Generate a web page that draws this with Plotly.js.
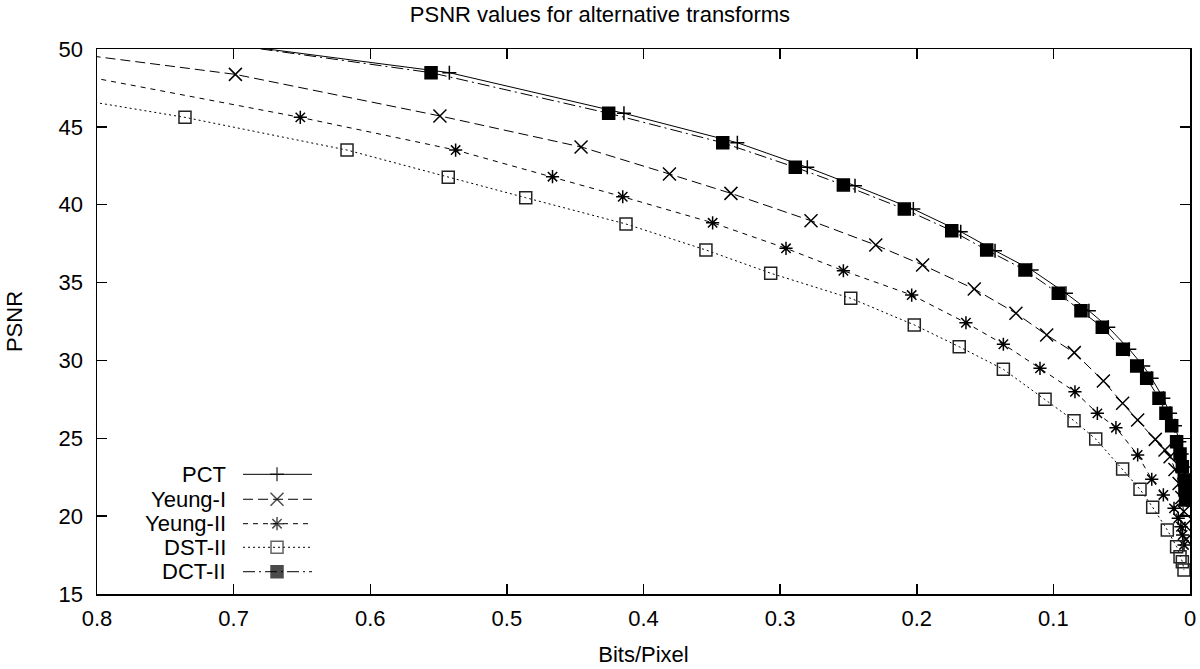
<!DOCTYPE html>
<html>
<head>
<meta charset="utf-8">
<script src="https://cdn.plot.ly/plotly-3.0.1.min.js"></script>
<style>html,body{margin:0;padding:0;background:#fff;}#chart{width:1200px;height:669px;}</style>
</head>
<body>
<div id="chart"></div>
<script>
// ---- data (bits/pixel, PSNR) ----
const seriesNames = ["PCT", "Yeung-I", "Yeung-II", "DST-II", "DCT-II"];

const pctX = [0.75, 0.5421, 0.4143, 0.3313, 0.2801, 0.2452, 0.2025, 0.1678, 0.1427, 0.1159, 0.0908, 0.0740, 0.0598, 0.0444, 0.0342, 0.0281, 0.0195, 0.0146, 0.0110, 0.0078, 0.0061, 0.0046, 0.0033, 0.0026, 0.0022];
const pctY = [50.85, 48.48, 45.87, 43.98, 42.40, 41.22, 39.72, 38.27, 37.05, 35.81, 34.31, 33.19, 32.13, 30.71, 29.64, 28.85, 27.57, 26.60, 25.81, 24.78, 23.99, 23.16, 22.32, 21.68, 21.04];

const yeung1X = [0.87, 0.6987, 0.549, 0.4457, 0.381, 0.336, 0.2774, 0.230, 0.1957, 0.1579, 0.1274, 0.1049, 0.0847, 0.0634, 0.0493, 0.0383, 0.0254, 0.0183, 0.0146, 0.0110, 0.0080, 0.0060, 0.0045, 0.0035, 0.0028];
const yeung1Y = [50.29, 48.37, 45.70, 43.71, 41.97, 40.73, 38.97, 37.41, 36.13, 34.59, 33.03, 31.63, 30.50, 28.68, 27.25, 26.17, 24.93, 24.25, 23.82, 23.00, 22.10, 21.20, 20.30, 19.40, 18.50];

const yeung2X = [0.84, 0.6512, 0.5375, 0.4666, 0.4152, 0.3494, 0.2957, 0.2537, 0.2037, 0.164, 0.1366, 0.1098, 0.0842, 0.0678, 0.0542, 0.0383, 0.028, 0.0195, 0.0117, 0.0086, 0.0066, 0.0054, 0.0044];
const yeung2Y = [48.77, 45.61, 43.51, 41.80, 40.51, 38.84, 37.20, 35.76, 34.20, 32.42, 31.04, 29.49, 27.99, 26.60, 25.68, 23.93, 22.37, 21.36, 20.50, 19.86, 19.32, 18.79, 18.15];

const dstX = [0.87, 0.7356, 0.617, 0.5429, 0.4862, 0.4128, 0.3543, 0.3069, 0.2483, 0.2018, 0.1689, 0.1366, 0.1061, 0.0849, 0.069, 0.0493, 0.0366, 0.0273, 0.0166, 0.0098, 0.0073, 0.0056, 0.0044];
const dstY = [47.57, 45.61, 43.51, 41.76, 40.45, 38.76, 37.09, 35.60, 33.99, 32.28, 30.88, 29.43, 27.50, 26.13, 24.95, 23.03, 21.72, 20.57, 19.11, 18.04, 17.39, 17.07, 16.54];

const dctX = [0.76, 0.5555, 0.4255, 0.342, 0.2889, 0.2537, 0.2091, 0.1744, 0.1488, 0.1208, 0.0964, 0.0798, 0.0642, 0.0493, 0.0390, 0.0317, 0.0227, 0.0176, 0.0134, 0.0098, 0.0073, 0.0056, 0.0042, 0.0037, 0.0032];
const dctY = [50.98, 48.48, 45.87, 43.98, 42.40, 41.27, 39.72, 38.33, 37.09, 35.81, 34.31, 33.19, 32.13, 30.71, 29.64, 28.85, 27.57, 26.60, 25.81, 24.78, 23.99, 23.17, 22.32, 21.68, 21.04];

const xTickVals = [0.8, 0.7, 0.6, 0.5, 0.4, 0.3, 0.2, 0.1, 0];
const yTickVals = [15, 20, 25, 30, 35, 40, 45, 50];

// ---- styles ----
const FONT = "Liberation Sans, Arial, Helvetica, sans-serif";
const styles = [
  {dash: "solid", symbol: "cross-thin-open", size: 10, mcolor: "#000"},
  {dash: "10px,5px", symbol: "x-thin-open", size: 13, mcolor: "#000"},
  {dash: "5px,5px", symbol: "asterisk-open", size: 11, mcolor: "#000"},
  {dash: "2px,3px", symbol: "square-open", size: 12, mcolor: "#222"},
  {dash: "12px,4px,2px,4px", symbol: "square", size: 12, mcolor: "#000"}
];
const seriesX = [pctX, yeung1X, yeung2X, dstX, dctX];
const seriesY = [pctY, yeung1Y, yeung2Y, dstY, dctY];

const traces = [];
seriesNames.forEach((name, i) => {
  const s = styles[i];
  traces.push({
    type: "scatter", mode: "lines+markers", name: name,
    x: seriesX[i], y: seriesY[i],
    line: {color: "#000", width: 1, dash: s.dash},
    marker: {symbol: s.symbol, size: s.size, color: s.mcolor, line: {color: s.mcolor, width: 1.5}},
    showlegend: false, cliponaxis: true
  });
});

// ---- custom legend (text left of sample, as in the original) ----
const legX0 = 0.1336, legX1 = 0.1967, legXm = 0.1647, legTextX = 0.1199;
const legRows = [0.2196, 0.1738, 0.1290, 0.0857, 0.0409];
const annotations = [];
seriesNames.forEach((name, i) => {
  const s = styles[i];
  const yy = legRows[i];
  traces.push({
    type: "scatter", mode: "lines+markers", xaxis: "x2", yaxis: "y2",
    x: [legX0, legXm, legX1], y: [yy, yy, yy],
    line: {color: "#000", width: 1, dash: s.dash},
    marker: {symbol: s.symbol, size: [0, s.size, 0], color: s.mcolor, line: {color: s.mcolor, width: [0, 1.5, 0]}},
    showlegend: false, hoverinfo: "skip"
  });
  annotations.push({
    xref: "paper", yref: "paper", x: legTextX, y: yy, xanchor: "right", yanchor: "middle",
    text: name, showarrow: false, font: {family: FONT, size: 22, color: "#000"}
  });
});

const axisCommon = {
  showgrid: false, zeroline: false, showline: true, linecolor: "#000", linewidth: 1.5,
  mirror: "ticks", ticks: "inside", ticklen: 10, tickwidth: 1.5, tickcolor: "#000",
  tickfont: {family: FONT, size: 22, color: "#000"}
};

const layout = {
  width: 1200, height: 669,
  margin: {l: 97, r: 10, t: 49, b: 75},
  paper_bgcolor: "#fff", plot_bgcolor: "#fff",
  showlegend: false,
  title: {text: "PSNR values for alternative transforms", font: {family: FONT, size: 22, color: "#000"}, x: 0.5, xanchor: "center", y: 0.978, yanchor: "middle"},
  xaxis: Object.assign({}, axisCommon, {
    range: [0.8, 0], tickmode: "array", tickvals: xTickVals, ticklabelstandoff: 4,
    title: {text: "Bits/Pixel", font: {family: FONT, size: 22, color: "#000"}, standoff: 16}
  }),
  yaxis: Object.assign({}, axisCommon, {
    range: [15, 50], tickmode: "array", tickvals: yTickVals, ticklabelstandoff: 8,
    title: {text: "PSNR", font: {family: FONT, size: 22, color: "#000"}, standoff: 30}
  }),
  xaxis2: {overlaying: "x", range: [0, 1], visible: false, fixedrange: true},
  yaxis2: {overlaying: "y", range: [0, 1], visible: false, fixedrange: true},
  annotations: annotations
};

Plotly.newPlot("chart", traces, layout, {staticPlot: true, displayModeBar: false});
</script>
</body>
</html>
